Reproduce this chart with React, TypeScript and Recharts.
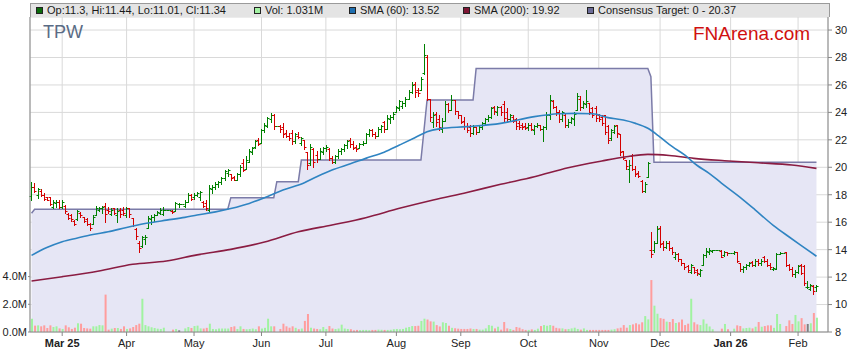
import React from 'react';
import { Area, Bar, CartesianGrid, Cell, ComposedChart, Line, XAxis, YAxis } from 'recharts';

type Ohlcv = [number, number, number, number, number];

// open, high, low, close, volume (millions) per weekday; exchange holidays are flat with no volume
const feb25: Ohlcv[] = [
  [17.9, 18.95, 17.6, 18.6, 0.96], [18.6, 18.85, 18.2, 18.3, 0.46], [18.0, 18.5, 17.75, 18.4, 0.48],
  [18.3, 18.4, 17.9, 18.0, 0.41], [18.0, 18.1, 17.6, 17.7, 0.48], [17.8, 17.85, 17.6, 17.65, 0.29],
  [17.8, 17.85, 17.25, 17.35, 0.48], [17.1, 17.6, 17.0, 17.5, 0.36], [17.4, 17.6, 17.1, 17.5, 0.41],
  [17.5, 17.6, 17.0, 17.1, 0.26],
];
const mar25: Ohlcv[] = [
  [17.1, 17.6, 17.0, 17.5, 0.22], [17.2, 17.25, 16.65, 16.8, 0.48], [16.6, 16.65, 16.2, 16.3, 0.34],
  [16.5, 16.6, 16.1, 16.2, 0.22], [16.1, 16.15, 15.8, 15.9, 0.31], [16.2, 16.9, 16.15, 16.8, 0.63],
  [16.7, 16.75, 16.4, 16.5, 0.6], [16.4, 16.4, 16.0, 16.1, 0.29], [16.2, 16.3, 15.8, 15.9, 0.26],
  [15.9, 15.95, 15.45, 15.6, 0.24], [15.9, 16.5, 15.9, 16.4, 0.41], [16.5, 17.15, 16.5, 17.0, 0.41],
  [16.9, 17.1, 16.8, 17.0, 0.5], [17.0, 17.15, 16.7, 17.1, 0.48], [17.2, 17.4, 16.05, 16.6, 2.7],
  [16.9, 17.1, 16.7, 16.8, 0.17], [16.6, 17.0, 16.5, 16.9, 0.24], [17.0, 17.05, 16.6, 16.7, 0.29],
  [16.5, 17.0, 16.0, 16.8, 0.29], [16.9, 17.0, 16.4, 16.6, 0.22], [16.9, 17.1, 16.5, 16.7, 0.41],
];
const apr25: Ohlcv[] = [
  [16.5, 17.1, 16.4, 17.0, 0.22], [17.0, 17.0, 16.4, 16.6, 0.26], [16.3, 16.3, 15.7, 15.8, 0.36],
  [15.5, 15.6, 14.8, 15.0, 0.5], [14.5, 14.6, 13.85, 14.1, 0.6], [14.3, 15.0, 14.2, 14.9, 2.4],
  [14.8, 15.05, 14.4, 14.95, 0.5], [15.6, 16.45, 15.6, 16.3, 0.41], [16.2, 16.5, 15.9, 16.4, 0.34],
  [16.4, 16.6, 16.1, 16.5, 0.29], [16.5, 16.8, 16.5, 16.75, 0.24], [16.7, 17.0, 16.6, 16.9, 0.22],
  [16.6, 17.1, 16.5, 16.9, 0.31], [16.9, 16.9, 16.9, 16.9, 0], [16.9, 16.9, 16.9, 16.9, 0],
  [16.8, 16.9, 16.7, 16.75, 0.17], [16.8, 17.5, 16.8, 17.4, 0.22], [17.3, 17.4, 17.1, 17.3, 0.12],
  [17.3, 17.3, 17.3, 17.3, 0], [17.2, 17.6, 17.1, 17.5, 0.26], [17.5, 18.1, 17.5, 18.0, 0.36],
  [18.0, 18.05, 17.6, 17.7, 0.29],
];
const may25: Ohlcv[] = [
  [17.8, 18.1, 17.7, 18.0, 0.43], [18.0, 18.2, 17.9, 18.1, 0.46], [17.8, 18.3, 17.6, 18.2, 0.26],
  [17.5, 17.55, 17.1, 17.2, 0.25], [17.4, 17.6, 16.9, 17.0, 0.3], [16.9, 18.7, 16.8, 18.5, 0.6],
  [18.4, 18.7, 18.1, 18.6, 0.22], [18.6, 18.9, 18.4, 18.8, 0.2], [18.8, 19.0, 18.6, 18.9, 0.25],
  [18.9, 19.3, 18.8, 19.2, 0.25], [19.2, 19.8, 19.1, 19.7, 0.25], [19.6, 19.9, 19.4, 19.8, 0.25],
  [19.5, 19.5, 19.1, 19.2, 0.36], [19.3, 19.35, 19.05, 19.1, 0.41], [19.1, 19.6, 19.05, 19.5, 0.22],
  [19.5, 20.2, 19.4, 20.0, 0.41], [20.3, 20.6, 19.7, 19.8, 0.22], [19.9, 20.8, 19.85, 20.5, 0.2],
  [20.4, 21.3, 20.4, 21.2, 0.22], [21.1, 21.5, 21.0, 21.4, 0.25], [21.5, 22.0, 21.4, 21.9, 0.2],
  [22.0, 22.1, 21.6, 21.7, 0.41],
];
const jun25: Ohlcv[] = [
  [21.8, 22.8, 21.8, 22.7, 0.25], [22.7, 23.2, 22.6, 23.1, 0.3], [23.0, 23.7, 22.9, 23.6, 0.96],
  [23.5, 23.95, 23.3, 23.8, 0.41], [23.8, 23.9, 22.8, 23.0, 0.41], [23.0, 23.0, 23.0, 23.0, 0],
  [23.0, 23.1, 22.6, 22.8, 0.22], [22.9, 23.2, 22.2, 22.4, 0.6], [22.5, 22.7, 22.2, 22.3, 0.41],
  [22.3, 22.5, 22.0, 22.1, 0.31], [22.5, 22.7, 21.7, 21.9, 0.41], [21.9, 22.5, 21.8, 22.4, 0.3],
  [22.3, 22.6, 22.1, 22.2, 0.2], [21.8, 22.2, 21.6, 22.1, 0.25], [22.0, 22.0, 21.3, 21.5, 0.8],
  [21.1, 21.15, 19.9, 20.2, 1.3], [20.3, 21.7, 20.2, 21.5, 0.31], [21.3, 21.4, 20.0, 20.4, 0.25],
  [20.9, 21.2, 20.4, 20.6, 0.22], [20.6, 21.4, 20.6, 21.2, 0.2], [21.1, 21.5, 21.0, 21.4, 0.36],
];
const jul25: Ohlcv[] = [
  [21.4, 21.6, 21.2, 21.5, 0.22], [21.3, 21.4, 20.5, 20.7, 0.43], [20.7, 20.8, 20.3, 20.4, 0.25],
  [20.4, 20.9, 20.3, 20.8, 0.22], [20.8, 21.3, 20.7, 21.2, 0.25], [21.2, 21.4, 21.0, 21.3, 0.53],
  [21.3, 21.7, 21.2, 21.6, 0.25], [21.6, 22.0, 21.4, 21.9, 0.22], [22.0, 22.1, 21.5, 21.7, 0.2],
  [21.7, 21.9, 21.3, 21.4, 0.12], [21.5, 21.6, 21.2, 21.3, 0.15], [21.4, 21.8, 21.4, 21.7, 0.14],
  [21.7, 21.9, 21.6, 21.8, 0.15], [21.8, 22.5, 21.8, 22.4, 0.15], [22.4, 22.8, 22.3, 22.7, 0.13],
  [22.7, 22.8, 22.3, 22.4, 0.15], [22.4, 22.6, 22.1, 22.3, 0.15], [22.3, 22.9, 22.3, 22.8, 0.17],
  [22.8, 23.1, 22.6, 23.0, 0.16], [23.3, 23.4, 22.6, 22.8, 0.15], [22.8, 23.8, 22.8, 23.6, 0.15],
  [23.5, 23.8, 23.2, 23.7, 0.16], [23.7, 24.0, 23.5, 23.9, 0.2],
];
const aug25: Ohlcv[] = [
  [24.0, 24.5, 24.0, 24.4, 0.22], [24.3, 24.9, 24.2, 24.8, 0.2], [24.5, 24.8, 24.3, 24.7, 0.22],
  [24.7, 25.1, 24.5, 25.0, 0.31], [25.0, 25.6, 25.0, 25.5, 0.36], [25.5, 26.2, 25.4, 26.0, 0.43],
  [26.1, 26.2, 25.1, 25.5, 0.43], [25.6, 25.8, 25.2, 25.4, 0.45], [25.6, 26.6, 25.6, 26.4, 0.8],
  [26.9, 29.0, 26.8, 28.2, 0.96], [28.0, 28.2, 24.9, 25.0, 0.9], [25.0, 25.0, 23.4, 23.7, 0.77],
  [23.3, 24.0, 22.9, 23.8, 0.75], [23.9, 24.0, 23.0, 23.3, 0.5], [23.5, 23.8, 22.7, 22.9, 0.4],
  [22.8, 23.6, 22.6, 23.4, 0.7], [23.4, 24.8, 23.4, 24.6, 0.65], [24.6, 24.7, 24.0, 24.2, 0.45],
  [24.2, 25.3, 24.2, 24.9, 0.3], [24.9, 24.9, 23.9, 24.1, 0.27], [24.1, 24.1, 23.6, 23.8, 0.24],
];
const sep25: Ohlcv[] = [
  [23.8, 23.8, 23.2, 23.3, 0.22], [23.4, 23.7, 22.8, 23.0, 0.22], [23.0, 23.2, 22.6, 22.7, 0.22],
  [22.9, 23.1, 22.3, 22.5, 0.25], [22.5, 23.1, 22.4, 22.9, 0.22], [22.9, 22.9, 22.4, 22.6, 0.22],
  [22.6, 23.0, 22.6, 22.9, 0.17], [22.9, 23.3, 22.8, 23.2, 0.17], [23.2, 23.6, 23.1, 23.5, 0.26],
  [23.5, 23.8, 23.4, 23.7, 0.5], [23.7, 24.4, 23.6, 24.3, 0.45], [24.4, 24.5, 23.9, 24.1, 0.26],
  [24.0, 24.5, 23.8, 24.4, 0.38], [24.4, 24.5, 23.8, 24.0, 0.17], [24.6, 24.8, 23.3, 23.6, 0.72],
  [24.0, 24.3, 23.4, 23.5, 0.26], [23.5, 23.9, 23.4, 23.8, 0.22], [23.7, 23.8, 23.3, 23.4, 0.15],
  [23.5, 23.6, 22.8, 23.0, 0.36], [23.2, 23.4, 22.8, 22.9, 0.31], [23.1, 23.2, 22.8, 22.9, 0.2],
  [23.0, 23.2, 22.8, 22.85, 0.15],
];
const oct25: Ohlcv[] = [
  [22.9, 23.2, 22.7, 23.1, 0.15], [23.1, 23.2, 22.7, 22.8, 0.19], [22.7, 23.1, 22.4, 23.0, 0.15],
  [23.0, 23.2, 22.9, 23.1, 0.24], [23.1, 23.1, 22.7, 22.8, 0.43], [22.8, 23.0, 21.9, 22.9, 0.5],
  [22.9, 24.0, 22.8, 23.8, 0.45], [23.8, 25.3, 23.5, 24.9, 0.5], [24.8, 24.9, 24.3, 24.4, 0.45],
  [24.4, 24.5, 23.8, 24.0, 0.3], [24.0, 24.2, 23.3, 23.5, 0.26], [23.5, 24.1, 23.4, 24.0, 0.26],
  [23.8, 23.9, 22.9, 23.1, 0.2], [23.1, 23.5, 22.9, 23.3, 0.22], [23.3, 23.7, 23.2, 23.6, 0.26],
  [23.5, 24.0, 23.1, 23.9, 0.31], [24.2, 25.4, 24.2, 25.2, 0.22], [25.0, 25.2, 24.2, 24.4, 0.17],
  [24.4, 24.8, 24.3, 24.7, 0.26], [24.6, 25.6, 24.4, 24.8, 0.15], [24.7, 24.7, 23.9, 24.0, 0.15],
  [24.3, 24.4, 23.7, 23.8, 0.15], [24.3, 24.5, 23.4, 23.6, 0.15],
];
const nov25: Ohlcv[] = [
  [23.8, 23.9, 23.4, 23.5, 0.15], [23.7, 23.8, 23.1, 23.2, 0.15], [23.8, 23.8, 22.4, 22.6, 0.15],
  [23.0, 23.1, 21.8, 22.0, 0.15], [22.1, 22.8, 22.0, 22.7, 0.17], [22.6, 23.1, 22.5, 23.0, 0.2],
  [23.1, 23.1, 22.2, 22.5, 0.26], [22.4, 22.4, 20.9, 21.1, 0.31], [21.2, 21.2, 20.6, 20.7, 0.5],
  [20.5, 20.5, 19.9, 20.1, 0.31], [19.9, 20.5, 18.95, 20.2, 0.5], [20.8, 21.0, 19.8, 19.9, 0.55],
  [19.9, 20.1, 19.4, 19.5, 0.63], [19.6, 19.7, 19.3, 19.4, 0.55], [19.0, 19.1, 18.2, 18.3, 0.7],
  [18.3, 18.95, 18.2, 18.8, 1.15], [19.3, 20.4, 19.3, 20.3, 0.91], [14.0, 15.3, 13.5, 13.7, 3.75],
  [14.0, 14.6, 13.85, 14.5, 1.9], [14.5, 15.7, 14.5, 15.5, 1.32],
];
const dec25: Ohlcv[] = [
  [15.6, 15.7, 14.2, 14.4, 1.0], [14.5, 14.6, 14.0, 14.2, 0.95], [14.2, 14.6, 14.1, 14.5, 0.75],
  [14.5, 14.6, 14.0, 14.1, 0.72], [14.1, 14.2, 13.7, 13.8, 0.94], [13.5, 13.8, 13.3, 13.7, 0.65],
  [13.7, 13.75, 13.2, 13.3, 0.7], [13.3, 13.35, 12.9, 13.0, 0.9], [13.0, 13.05, 12.6, 12.7, 0.5],
  [12.8, 12.85, 12.4, 12.5, 0.6], [12.4, 12.95, 12.3, 12.85, 2.4], [12.7, 12.75, 12.3, 12.4, 0.7],
  [12.5, 12.6, 12.15, 12.3, 0.55], [12.2, 12.6, 12.1, 12.5, 0.5], [12.9, 13.7, 12.9, 13.6, 0.91],
  [13.6, 14.15, 13.5, 13.9, 0.6], [13.8, 14.1, 13.7, 14.0, 0.4], [13.9, 14.0, 13.8, 13.95, 0.2],
  [13.95, 13.95, 13.95, 13.95, 0], [13.95, 13.95, 13.95, 13.95, 0], [13.9, 13.95, 13.45, 13.5, 0.24],
  [13.6, 13.9, 13.55, 13.8, 0.58], [13.8, 13.85, 13.6, 13.75, 0.2],
];
const jan26: Ohlcv[] = [
  [13.75, 13.75, 13.75, 13.75, 0], [13.75, 13.9, 13.7, 13.8, 0.24], [13.8, 13.85, 13.1, 13.2, 0.48],
  [13.0, 13.05, 12.45, 12.6, 0.43], [12.6, 12.8, 12.4, 12.7, 0.26], [12.7, 12.95, 12.6, 12.9, 0.29],
  [12.9, 13.1, 12.8, 13.0, 0.31], [13.1, 13.2, 12.8, 12.9, 0.26], [12.9, 13.3, 12.8, 13.2, 0.38],
  [13.2, 13.3, 12.9, 13.0, 0.72], [13.0, 13.3, 12.9, 13.2, 0.38], [13.5, 13.55, 13.1, 13.2, 0.43],
  [13.2, 13.3, 12.8, 12.9, 0.48], [12.9, 13.0, 12.6, 12.7, 0.48], [12.6, 12.75, 12.5, 12.65, 0.3],
  [12.6, 13.75, 12.6, 13.7, 1.3], [13.7, 13.8, 13.65, 13.75, 0.58], [13.75, 13.75, 13.75, 13.75, 0],
  [13.8, 13.85, 12.8, 12.9, 0.43], [12.9, 12.95, 12.5, 12.6, 0.84], [12.6, 12.7, 12.1, 12.2, 0.58],
  [12.2, 12.5, 12.0, 12.4, 1.23],
];
const feb26: Ohlcv[] = [
  [12.4, 12.9, 12.3, 12.8, 0.77], [12.9, 12.95, 12.2, 12.3, 1.0], [12.8, 12.85, 11.4, 11.6, 0.55],
  [11.3, 11.7, 11.2, 11.3, 0.58], [11.1, 11.5, 11.05, 11.4, 0.63], [11.35, 11.4, 10.8, 11.0, 1.37],
  [11.3, 11.44, 11.01, 11.34, 1.031],
];

// moving averages at [bar index, value]
const sma60: [number, number][] = [
  [0, 13.58], [5, 14.15], [10, 14.58], [15, 14.85], [20, 15.1], [25, 15.3], [31, 15.62], [37, 15.9],
  [44, 16.15], [50, 16.35], [54, 16.52], [60, 16.75], [65, 17.0], [71, 17.37], [77, 17.88], [82, 18.34],
  [89, 18.88], [93, 19.31], [98, 19.8], [104, 20.25], [109, 20.65], [115, 21.1], [120, 21.62], [125, 22.15],
  [129, 22.59], [133, 22.8], [142, 22.96], [153, 23.2], [164, 23.69], [172, 23.9], [177, 23.93], [183, 23.9],
  [188, 23.62], [193, 23.44], [197, 23.2], [201, 22.84], [205, 22.2], [209, 21.5], [213, 20.9], [217, 20.15],
  [221, 19.56], [225, 18.85], [231, 17.83], [236, 16.9], [242, 15.75], [247, 14.94], [252, 14.15], [256, 13.52],
];
const sma200: [number, number][] = [
  [0, 11.72], [10, 12.03], [22, 12.45], [33, 12.93], [44, 13.17], [54, 13.62], [65, 14.02], [76, 14.55],
  [87, 15.3], [98, 15.8], [109, 16.33], [120, 17.01], [131, 17.62], [142, 18.17], [153, 18.76], [164, 19.31],
  [175, 19.97], [186, 20.46], [194, 20.77], [201, 20.94], [208, 20.86], [216, 20.65], [226, 20.48],
  [237, 20.33], [248, 20.17], [256, 19.92],
];
const consensus: [number, number][] = [
  [0, 16.65], [1, 16.94], [64, 16.94], [65, 17.79], [79, 17.79], [80, 18.95], [87, 18.95], [88, 20.53],
  [127, 20.53], [128, 22.7], [129, 24.9], [144, 24.9], [145, 27.2], [201, 27.2], [202, 26.6], [203, 20.37],
  [256, 20.37],
];

const firstDay = '2025-02-17';
const monthTicks = ['2025-03-03', '2025-04-01', '2025-05-01', '2025-06-02', '2025-07-01', '2025-08-01',
  '2025-09-01', '2025-10-01', '2025-11-03', '2025-12-01', '2026-01-01', '2026-02-02'];
const monthLabels = ['Mar 25', 'Apr', 'May', 'Jun', 'Jul', 'Aug', 'Sep', 'Oct', 'Nov', 'Dec', 'Jan 26', 'Feb'];
const priceTicks = [8, 10, 12, 14, 16, 18, 20, 22, 24, 26, 28, 30];
const volTicks = [0, 2, 4];

const UP = '#008000';
const DOWN = '#d40000';
const VOL_UP = '#a0f3a0';
const VOL_DOWN = '#ff9d9d';
const VOL_FLAT = '#808080';

const bars = [...feb25, ...mar25, ...apr25, ...may25, ...jun25, ...jul25, ...aug25, ...sep25,
  ...oct25, ...nov25, ...dec25, ...jan26, ...feb26];

function weekdays(start: string, count: number) {
  const out: string[] = [];
  const d = new Date(start + 'T00:00:00Z');
  while (out.length < count) {
    const wd = d.getUTCDay();
    if (wd !== 0 && wd !== 6) out.push(d.toISOString().slice(0, 10));
    d.setUTCDate(d.getUTCDate() + 1);
  }
  return out;
}

const days = weekdays(firstDay, bars.length);
const sma60Map = new Map(sma60);
const sma200Map = new Map(sma200);
const consensusMap = new Map(consensus);

const data = bars.map((b, i) => ({
  date: days[i],
  o: b[0], h: b[1], l: b[2], c: b[3], v: b[4],
  range: [b[2], b[1]],
  sma60: sma60Map.get(i) ?? null,
  sma200: sma200Map.get(i) ?? null,
  target: consensusMap.get(i) ?? null,
}));

const labelFor = new Map(monthTicks.map((t, i) => [t, monthLabels[i]]));

function OhlcShape(props: any) {
  const { x, y, width, height, payload } = props;
  const { o, h, l, c } = payload;
  const top = Math.min(y, y + height);
  const bottom = Math.max(y, y + height);
  const span = h - l;
  const yOf = (p: number) => Math.round(span > 0 ? top + ((h - p) / span) * (bottom - top) : top) + 0.5;
  const cx = Math.round(x + width / 2) + 0.5;
  const color = c >= o ? UP : DOWN;
  return (
    <g stroke={color} strokeWidth={1}>
      {span > 0 && <line x1={cx} x2={cx} y1={Math.round(top)} y2={Math.round(bottom) + 1} />}
      <line x1={cx - 2} x2={cx} y1={yOf(o)} y2={yOf(o)} />
      <line x1={cx} x2={cx + 2} y1={yOf(c)} y2={yOf(c)} />
    </g>
  );
}

function MonthTick(props: any) {
  const { x, y, payload } = props;
  const label = labelFor.get(payload.value) ?? '';
  const bold = label.includes(' ');
  return (
    <text x={x} y={y} dy="0.71em" textAnchor="middle" fontSize={11} fill="#222" fontWeight={bold ? 'bold' : 'normal'}>
      {label}
    </text>
  );
}

const legendItems = [
  { x: 36, color: '#0b6b0b', label: 'Op:11.3, Hi:11.44, Lo:11.01, Cl:11.34' },
  { x: 254, color: '#a3f2a3', label: 'Vol: 1.031M' },
  { x: 349, color: '#1f6fb0', label: 'SMA (60): 13.52' },
  { x: 463, color: '#7e1634', label: 'SMA (200): 19.92' },
  { x: 587, color: '#6c6c98', label: 'Consensus Target: 0 - 20.37' },
];

export default function App() {
  return (
    <div style={{ position: 'relative', width: 859, height: 363, background: '#fff', fontFamily: '"Liberation Sans", Arial, sans-serif' }}>
      <style>{'body{margin:0}'}</style>
      <ComposedChart width={859} height={363} data={data} margin={{ top: 17, right: 0, bottom: 0, left: 0 }}>
        <CartesianGrid xAxisId="main" yAxisId="price" stroke="#d9d9d9" />
        <XAxis
          xAxisId="main"
          dataKey="date"
          ticks={monthTicks}
          interval={0}
          tick={<MonthTick />}
          tickSize={4}
          tickMargin={3}
          height={31}
          padding={{ left: 0, right: 10 }}
          stroke="#888"
        />
        <XAxis xAxisId="vol" dataKey="date" hide padding={{ left: 0, right: 10 }} />
        <YAxis
          yAxisId="vol"
          orientation="left"
          width={30}
          domain={[0, 22.74]}
          ticks={volTicks}
          allowDataOverflow
          tickFormatter={(v: number) => `${v.toFixed(1)}M`}
          tick={{ fontSize: 11, fill: '#222' }}
          tickSize={2}
          tickMargin={1}
          stroke="#888"
        />
        <YAxis
          yAxisId="price"
          orientation="right"
          width={31}
          domain={[8, 30.95]}
          ticks={priceTicks}
          allowDataOverflow
          tick={{ fontSize: 11, fill: '#222' }}
          tickSize={4}
          tickMargin={3}
          stroke="#888"
        />
        <Area
          xAxisId="main"
          yAxisId="price"
          type="linear"
          dataKey="target"
          connectNulls
          stroke="#7b7ba8"
          strokeWidth={1.5}
          fill="#e6e6f5"
          fillOpacity={1}
          dot={false}
          activeDot={false}
          isAnimationActive={false}
        />
        <Bar xAxisId="vol" yAxisId="vol" dataKey="v" barSize={2} isAnimationActive={false}>
          {data.map((d) => (
            <Cell key={d.date} fill={d.c > d.o ? VOL_UP : d.c < d.o ? VOL_DOWN : VOL_FLAT} />
          ))}
        </Bar>
        <Line
          xAxisId="main"
          yAxisId="price"
          type="monotone"
          dataKey="sma200"
          connectNulls
          stroke="#8a1c42"
          strokeWidth={1.6}
          dot={false}
          activeDot={false}
          isAnimationActive={false}
        />
        <Line
          xAxisId="main"
          yAxisId="price"
          type="monotone"
          dataKey="sma60"
          connectNulls
          stroke="#2f84c2"
          strokeWidth={1.6}
          dot={false}
          activeDot={false}
          isAnimationActive={false}
        />
        <Bar xAxisId="main" yAxisId="price" dataKey="range" barSize={5} shape={<OhlcShape />} isAnimationActive={false} />
      </ComposedChart>

      <div
        style={{
          position: 'absolute', left: 30, top: 3, width: 800, height: 14, boxSizing: 'border-box',
          background: '#e4e4e4', borderTop: '1px solid #9a9a9a', borderLeft: '1px solid #9a9a9a', borderRight: '1px solid #9a9a9a',
        }}
      />
      {legendItems.map((it) => (
        <React.Fragment key={it.label}>
          <div style={{ position: 'absolute', left: it.x, top: 7, width: 7, height: 7, boxSizing: 'border-box', background: it.color, border: '1px solid #222' }} />
          <div style={{ position: 'absolute', left: it.x + 11, top: 3, fontSize: 11, lineHeight: '14px', color: '#1a1a1a', whiteSpace: 'nowrap' }}>
            {it.label}
          </div>
        </React.Fragment>
      ))}
      <div style={{ position: 'absolute', left: 43, top: 23, fontSize: 18, lineHeight: '18px', color: '#5a6b85' }}>TPW</div>
      <div style={{ position: 'absolute', left: 693, top: 24, fontSize: 19, lineHeight: '19px', color: '#d01010' }}>FNArena.com</div>
    </div>
  );
}
